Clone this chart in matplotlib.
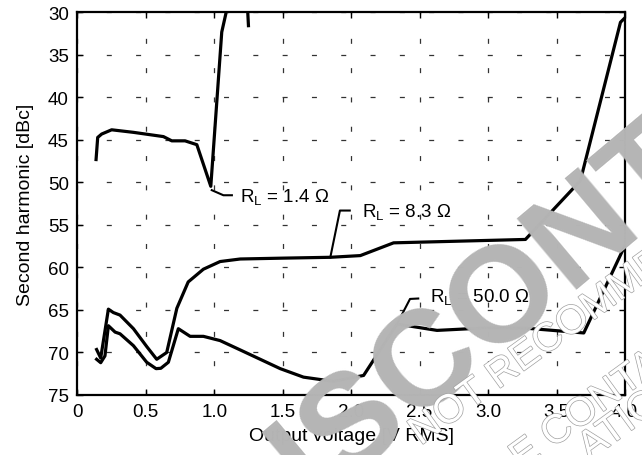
import numpy as np
import matplotlib
matplotlib.use("Agg")
import matplotlib.pyplot as plt
import matplotlib.patheffects as pe

plt.rcParams['font.family'] = ['Liberation Sans', 'DejaVu Sans']
plt.rcParams['mathtext.default'] = 'regular'
plt.rcParams['lines.scale_dashes'] = False

nan = np.nan
# R_L = 1.4 ohm
v_14 = [0.137, 0.149, 0.178, 0.251, 0.41, 0.629, 0.69, 0.787, 0.873, 0.975, 1.055, 1.087, nan, 1.245, 1.25]
h2_14 = [47.3, 44.7, 44.3, 43.8, 44.1, 44.6, 45.1, 45.1, 45.55, 50.45, 32.3, 30.0, nan, 30.0, 31.55]
# R_L = 8.3 ohm
v_83 = [0.141, 0.171, 0.227, 0.263, 0.312, 0.41, 0.507, 0.58, 0.653, 0.727, 0.81, 0.921,
        1.043, 1.19, 1.50, 1.848, 2.067, 2.31, 3.273, 3.674, 3.967, 3.995]
h2_83 = [69.65, 70.65, 64.9, 65.3, 65.6, 67.2, 69.3, 70.8, 70.0, 64.8, 61.7, 60.2,
         59.3, 59.0, 58.9, 58.8, 58.6, 57.1, 56.7, 49.8, 31.15, 30.7]
# R_L = 50.0 ohm
v_50 = [0.141, 0.171, 0.202, 0.227, 0.276, 0.312, 0.41, 0.507, 0.575, 0.61, 0.665, 0.738,
        0.824, 0.921, 1.043, 1.19, 1.482, 1.652, 1.871, 2.091, 2.335, 2.627, 2.993, 3.285, 3.699, 4.0]
h2_50 = [70.8, 71.2, 70.4, 66.85, 67.6, 67.8, 69.2, 71.15, 71.9, 71.86, 71.15, 67.2,
         68.1, 68.1, 68.6, 69.7, 71.9, 72.9, 73.4, 72.7, 66.65, 67.4, 67.1, 67.15, 67.7, 57.4]

x_ticks = [0, 0.5, 1.0, 1.5, 2.0, 2.5, 3.0, 3.5, 4.0]
x_ticklabels = ["0", "0.5", "1.0", "1.5", "2.0", "2.5", "3.0", "3.5", "4.0"]
y_ticks = [30, 35, 40, 45, 50, 55, 60, 65, 70, 75]

labels = ["R$_{L}$ = 1.4 Ω", "R$_{L}$ = 8.3 Ω", "R$_{L}$ = 50.0 Ω"]
label_pos = [(1.19, 51.55), (2.08, 53.3), (2.573, 63.35)]
leaders = [([0.982, 1.067, 1.129], [50.9, 51.5, 51.5]),
           ([1.848, 1.918, 1.99], [58.8, 53.3, 53.3]),
           ([2.335, 2.43, 2.49], [66.65, 63.7, 63.65])]

fig = plt.figure(figsize=(6.42, 4.56), dpi=100)
ax = fig.add_axes([0.1204, 0.1316, 0.8531, 0.8388])
ax.set_facecolor('none')

# watermark
wm_gray = '#b5b5b5'
fig.text(0.955, 0.548, "DISCONTINUED", fontsize=98, fontweight='bold', color=wm_gray,
         rotation=40, rotation_mode='anchor', ha='center', va='center', zorder=0)
outline = [pe.withStroke(linewidth=1.0, foreground='#a0a0a0')]
for (tx, ty, s) in [(0.655, 0.02, "NOT RECOMMENDED FOR NEW DESIGNS"),
                    (0.812, -0.035, "E CONTACT"),
                    (0.918, -0.013, "ATION")]:
    t = fig.text(tx, ty, s, fontsize=29, color='white', rotation=36,
                 rotation_mode='anchor', ha='left', va='baseline', zorder=0.5)
    t.set_path_effects(outline)

ax.plot(v_14, h2_14, color='black', lw=2.3, solid_joinstyle='round', zorder=3)
ax.plot(v_83, h2_83, color='black', lw=2.3, solid_joinstyle='round', zorder=3)
ax.plot(v_50, h2_50, color='black', lw=2.3, solid_joinstyle='round', zorder=3)

for (lx, ly), s, (px, py) in zip(label_pos, labels, leaders):
    ax.plot(px, py, color='black', lw=1.5, zorder=3)
    ax.text(lx, ly, s, fontsize=13.5, ha='left', va='center', zorder=4)

ax.set_xlim(0, 4.0)
ax.set_ylim(75, 30)
ax.set_xticks(x_ticks)
ax.set_xticklabels(x_ticklabels)
ax.set_yticks(y_ticks)
ax.tick_params(direction='in', length=4, width=1, top=True, right=True,
               labelsize=13.5, pad=6)
ax.grid(True, color='#333333', lw=0.9, linestyle=(0, (3.6, 17.5)))
for sp in ax.spines.values():
    sp.set_linewidth(1.6)
ax.set_xlabel("Output voltage [V RMS]", fontsize=14, labelpad=5)
ax.set_ylabel("Second harmonic [dBc]", fontsize=14, labelpad=10)

fig.savefig("out.png", dpi=100)
